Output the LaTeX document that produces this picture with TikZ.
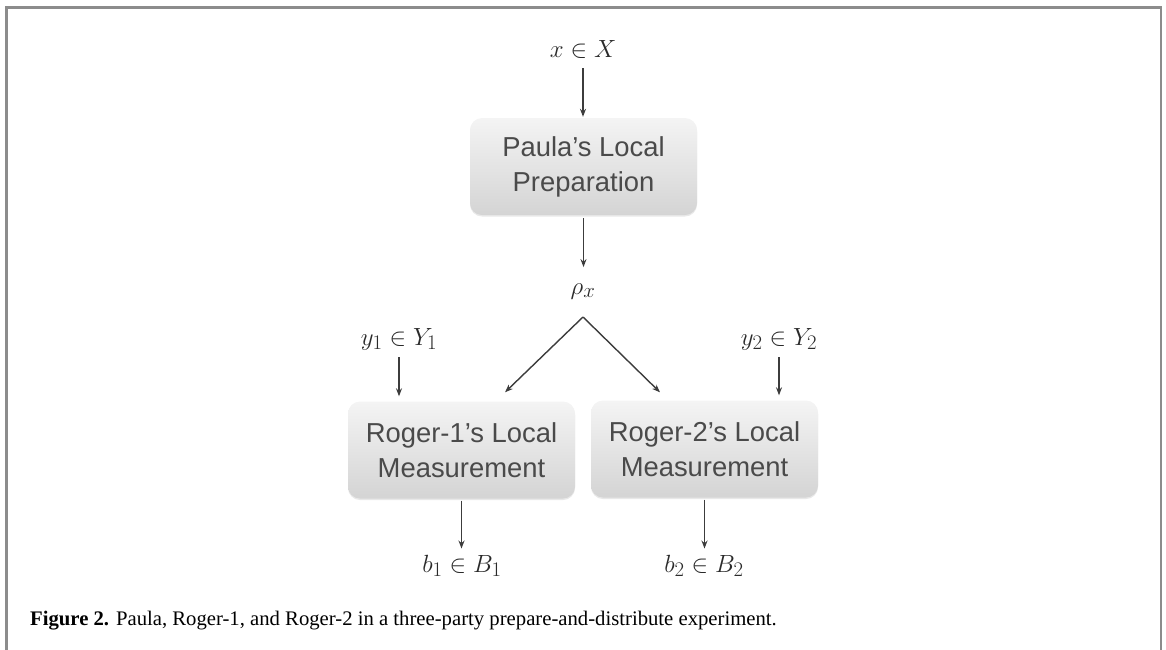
\documentclass[tikz,border=0pt]{standalone}
\usepackage[no-math]{fontspec}
\newfontfamily\boxfont{Liberation Sans}
\newfontfamily\capfont{Liberation Serif}
\usetikzlibrary{arrows.meta,shadows,calc}
\definecolor{boxtop}{HTML}{F4F4F4}
\definecolor{boxbot}{HTML}{D4D4D4}
\definecolor{txtgray}{HTML}{4A4A4A}
\definecolor{mathgray}{HTML}{2A2A2A}
\definecolor{arrgray}{HTML}{3C3C3C}
\definecolor{framegray}{HTML}{8C8C8C}
\tikzset{
  procbox/.style={rounded corners=12pt, minimum width=227pt, minimum height=97pt,
    top color=boxtop, bottom color=boxbot, draw=none, text=txtgray, align=center,
    font=\boxfont\fontsize{27.4}{35}\selectfont,
    drop shadow={shadow xshift=0pt, shadow yshift=-1.5pt, opacity=0.18}},
  mth/.style={inner sep=0pt, anchor=base, text=mathgray, font=\fontsize{28.5}{33}\selectfont},
  arr/.style={draw=arrgray, line width=1.4pt, -{Stealth[length=8pt,width=6pt]}},
  framestyle/.style={draw=framegray, line width=2.5pt}
}
\begin{document}
\begin{tikzpicture}[x=1pt,y=-1pt]
\useasboundingbox (0,0) rectangle (1166,649);
\draw[framestyle] (6.5,680) -- (6.5,7.5) -- (1161,7.5) -- (1161,680);

\node[mth] (xin) at (583,57) {$x\in X$};
\node[procbox] (paula) at (583.5,166.5) {Paula’s Local\\Preparation};
\node[mth] (rho) at (583,294) {$\rho_x$};
\coordinate (peak) at (583,317);
\node[mth] (y1) at (399,345) {$y_1\in Y_1$};
\node[mth] (y2) at (779,345) {$y_2\in Y_2$};
\node[procbox] (roger1) at (461.5,450) {Roger-1’s Local\\Measurement};
\node[procbox] (roger2) at (704.5,449) {Roger-2’s Local\\Measurement};
\node[mth] (b1) at (462,572) {$b_1\in B_1$};
\node[mth] (b2) at (704,572) {$b_2\in B_2$};

\draw[arr, shorten <=10pt, shorten >=1pt] (xin.south) -- (xin.south |- paula.north);
\draw[arr, shorten <=3pt, shorten >=16pt] (paula.south) -- (paula.south |- rho.north);
\draw[arr, shorten <=7pt, shorten >=5pt] (y1.south) -- (y1.south |- roger1.north);
\draw[arr, shorten <=7pt, shorten >=5pt] (y2.south) -- (y2.south |- roger2.north);
\draw[arr, shorten <=2pt, shorten >=6pt] (roger1.south) -- (roger1.south |- b1.north);
\draw[arr, shorten <=2pt, shorten >=6pt] (roger2.south) -- (roger2.south |- b2.north);
\draw[arr] (peak) -- ($(roger1.north)+(43.5,-9)$);
\draw[arr] (peak) -- ($(roger2.north)+(-44.5,-8)$);

\node[anchor=base west, inner sep=0pt, font=\capfont\fontsize{20.7}{24}\selectfont] (cap) at (30,625)
  {\textbf{Figure 2.} Paula, Roger-1, and Roger-2 in a three-party prepare-and-distribute experiment.};
\end{tikzpicture}
\end{document}
